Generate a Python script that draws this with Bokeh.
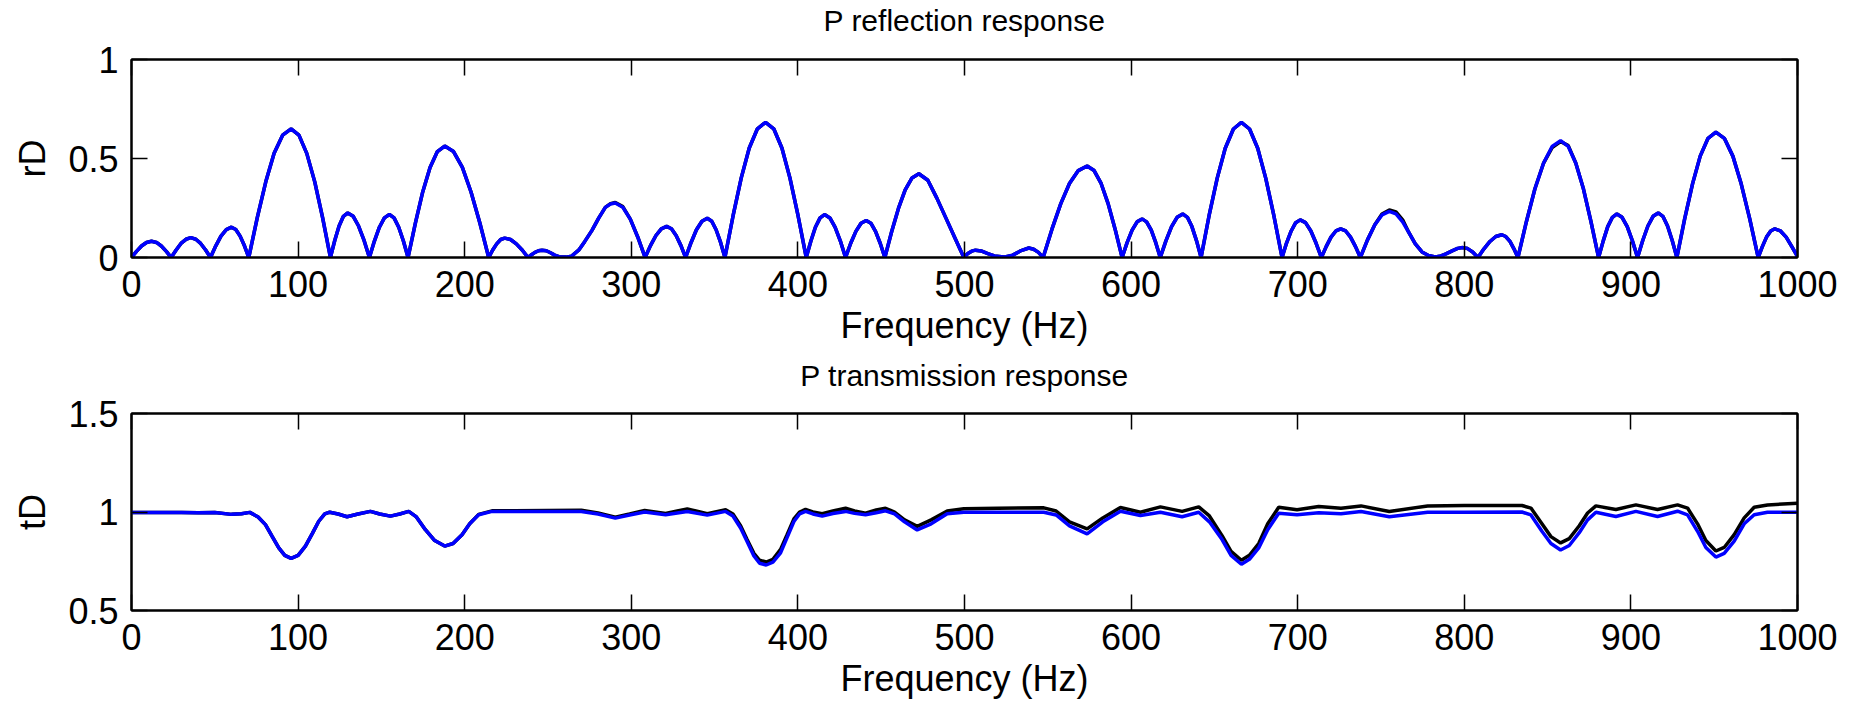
from bokeh.plotting import figure
from bokeh.models import FixedTicker, LinearAxis, Range1d, CustomJSTickFormatter
from bokeh.layouts import column
from bokeh.embed import file_html
from bokeh.resources import INLINE

FONT = "Liberation Sans"

# ---------------- data: P reflection response (rD) ----------------
f_r = [0, 3, 6, 9, 12, 15, 17.9, 20.9, 23.8,
       26.8, 29.7, 32.7, 35.6, 38.6, 41.5, 44.5, 47.4,
       50.6, 53.7, 56.9, 60, 62.6, 65.2, 67.8, 70.4,
       75.5, 80.6, 85.6, 90.7, 95.8, 100.5, 105.2, 110, 114.7, 119.4,
       122, 124.6, 127.2, 129.8, 133.1, 136.3, 139.6, 142.8,
       145.8, 148.8, 151.8, 154.8, 157.6, 160.4, 163.2, 166,
       170.4, 174.8, 179.2, 183.6, 188, 193.3, 198.6, 203.8, 209.1, 214.4,
       216.8, 219.2, 221.6, 224, 227.5, 231, 234.5, 238,
       240.1, 242.2, 244.3, 246.4, 249, 251.5, 254, 257, 261, 264,
       268.4, 272, 276.4, 280.5, 284.4, 287.5, 290.4, 294.9, 299.4, 303.8, 308.3,
       311.5, 314.8, 318, 321.2, 324.1, 326.9, 329.8, 332.6,
       335.9, 339.1, 342.4, 345.6, 348.3, 350.9, 353.6, 356.2,
       361.1, 366, 370.8, 375.7, 380.6, 385.5, 390.4, 395.2, 400.1, 405,
       407.8, 410.5, 413.3, 416, 419.2, 422.3, 425.5, 428.6,
       431.7, 434.8, 437.9, 441, 443.8, 446.6, 449.4, 452.2,
       456.3, 460.4, 464.4, 468.5, 472.6, 478, 483.4, 488.8, 494.2, 499.6,
       502, 504.3, 506.6, 510, 514, 518, 523.6, 529, 534, 538.6, 541.5, 544.4, 547.2,
       552.5, 557.8, 563, 568.3, 573.6, 577.8, 582, 586.2, 590.4, 594.6,
       597.6, 600.6, 603.6, 606.6, 609.3, 612.1, 614.8, 617.5,
       620.9, 624.3, 627.6, 631, 633.8, 636.5, 639.3, 642,
       646.8, 651.7, 656.5, 661.4, 666.2, 671.1, 676, 680.8, 685.7, 690.6,
       693.3, 696.1, 698.8, 701.5, 704.7, 707.9, 711, 714.2,
       717.1, 720, 722.9, 725.8, 728.8, 731.7, 734.7, 737.6,
       741.9, 746.3, 750.6, 755, 759, 763, 766.6, 770.5, 774.6, 778.5, 782.6,
       786, 789, 793, 796, 799, 802, 805, 808.2,
       811.8, 815.4, 818.9, 822.5, 824.9, 827.4, 829.8, 832.2,
       837.3, 842.4, 847.6, 852.7, 857.8, 862.4, 866.9, 871.5, 876, 880.6,
       883.4, 886.1, 888.9, 891.6, 894.7, 897.8, 900.9, 904,
       907.1, 910.2, 913.3, 916.4, 919.2, 922, 924.8, 927.6,
       932.3, 937, 941.6, 946.3, 951, 956.1, 961.2, 966.2, 971.3, 976.4,
       978.9, 981.4, 983.9, 986.4, 989.8, 993.2, 996.6, 1000]

rD_blue = [0, .031, .058, .076, .082, .076, .058, .031, 0,
           .038, .071, .092, .100, .092, .071, .038, 0,
           .059, .108, .141, .153, .141, .108, .059, 0,
           .201, .382, .526, .618, .650, .618, .526, .382, .201, 0,
           .086, .159, .208, .225, .208, .159, .086, 0,
           .083, .153, .200, .217, .200, .153, .083, 0,
           .174, .331, .455, .535, .563, .535, .455, .331, .174, 0,
           .038, .069, .091, .098, .091, .069, .038, 0,
           .014, .026, .034, .037, .034, .024, .012, .003, .002, .006,
           .037, .080, .137, .200, .253, .270, .275, .254, .194, .105, 0,
           .060, .111, .145, .157, .145, .111, .060, 0,
           .076, .140, .183, .198, .183, .140, .076, 0,
           .211, .402, .553, .650, .683, .650, .553, .402, .211, 0,
           .083, .153, .200, .217, .200, .153, .083, 0,
           .072, .132, .173, .187, .173, .132, .072, 0,
           .131, .249, .342, .402, .423, .390, .300, .200, .100, 0,
           .020, .032, .037, .033, .020, .008, .002, .012, .035, .048, .042, .026, 0,
           .143, .272, .374, .439, .462, .439, .374, .272, .143, 0,
           .075, .138, .180, .195, .180, .138, .075, 0,
           .084, .156, .203, .220, .203, .156, .084, 0,
           .211, .401, .552, .649, .682, .649, .552, .401, .211, 0,
           .073, .134, .176, .190, .176, .134, .073, 0,
           .055, .103, .134, .145, .134, .103, .055, 0,
           .089, .165, .215, .233, .220, .180, .128, .070, .028, .010, .003,
           .008, .018, .035, .046, .050, .045, .028, 0,
           .044, .081, .106, .115, .106, .081, .044, 0,
           .182, .347, .477, .561, .590, .561, .477, .347, .182, 0,
           .084, .156, .203, .220, .203, .156, .084, 0,
           .086, .159, .208, .225, .208, .159, .086, 0,
           .196, .372, .512, .602, .633, .602, .512, .372, .196, 0,
           .055, .103, .134, .145, .134, .103, .055, .005]

# black reflection curve: same as the blue one except where it shows
rD_black_diff = {287.5: .272, 290.4: .278, 294.9: .257,
                 750.6: .220, 755: .240, 759: .230, 763: .190,
                 852.7: .555, 857.8: .586, 862.4: .565}
rD_black = [rD_black_diff.get(f, v) for f, v in zip(f_r, rD_blue)]

# ---------------- data: P transmission response (tD) ----------------
f_t = [0, 10, 20, 30, 40, 50, 60, 66, 71, 76, 80.4, 84.5, 88.4, 92, 95.8, 100,
       104.4, 108.5, 112.4, 116, 119, 124, 129.4, 136, 143.4, 149, 155.4, 161,
       166.4, 171, 176.4, 182, 188, 193, 198.4, 203, 208.4, 216.4, 230, 250,
       270, 280, 290.4, 299, 308, 320.6, 333.6, 345.6, 356.6, 361, 365.6,
       369.5, 373.6, 377, 381, 385, 389.6, 393.5, 397.6, 401, 404.6, 409,
       414.6, 421, 428.6, 434, 440.6, 447, 452.6, 458, 464, 471.6, 480,
       489.6, 499.6, 520, 547.6, 555, 563, 573.6, 583, 593.6, 605.6, 617.6,
       630.6, 640.6, 647, 654.6, 660, 666.2, 671, 676.6, 682, 688.6, 699.6,
       712.6, 726, 738, 755, 778, 800, 834.6, 840, 846.6, 852, 857.8, 863,
       869, 874, 879, 891, 903, 916, 928, 934, 940, 945, 951, 956, 962, 968,
       974, 982, 1000]

tD_blue = [0.998, 0.997, 0.998, 0.997, 0.996, 0.998, 0.988, 0.991, 0.998, 0.975,
           0.936, 0.875, 0.818, 0.780, 0.765, 0.780, 0.827, 0.890, 0.953, 0.990,
           0.999, 0.990, 0.976, 0.990, 1.003, 0.990, 0.979, 0.990, 1.003, 0.975,
           0.910, 0.855, 0.827, 0.840, 0.885, 0.940, 0.986, 1.003, 1.002, 1.003,
           1.002, 0.990, 0.969, 0.985, 1.000, 0.986, 1.003, 0.984, 1.003, 0.980,
           0.919, 0.850, 0.777, 0.740, 0.731, 0.745, 0.793, 0.870, 0.952, 0.990,
           1.003, 0.990, 0.979, 0.992, 1.003, 0.993, 0.986, 0.996, 1.006, 0.990,
           0.950, 0.909, 0.940, 0.991, 0.999, 0.999, 0.999, 0.985, 0.930, 0.889,
           0.950, 1.004, 0.982, 0.999, 0.976, 0.999, 0.950, 0.860, 0.780, 0.735,
           0.760, 0.818, 0.910, 0.994, 0.986, 0.996, 0.991, 1.003, 0.976, 0.999,
           0.999, 1.000, 0.985, 0.902, 0.840, 0.807, 0.830, 0.895, 0.960, 0.999,
           0.977, 1.003, 0.977, 1.004, 0.985, 0.902, 0.820, 0.771, 0.790, 0.852,
           0.940, 0.986, 0.999, 0.999]

tD_black = [0.998, 0.997, 0.998, 0.997, 0.996, 0.998, 0.988, 0.991, 0.998, 0.975,
            0.936, 0.875, 0.818, 0.780, 0.765, 0.780, 0.827, 0.890, 0.953, 0.990,
            0.999, 0.990, 0.976, 0.990, 1.003, 0.990, 0.979, 0.990, 1.003, 0.975,
            0.910, 0.855, 0.827, 0.840, 0.885, 0.940, 0.988, 1.006, 1.006, 1.008,
            1.009, 0.995, 0.973, 0.990, 1.008, 0.993, 1.016, 0.991, 1.011, 0.990,
            0.930, 0.860, 0.790, 0.755, 0.746, 0.760, 0.810, 0.885, 0.965, 1.000,
            1.013, 1.000, 0.991, 1.005, 1.019, 1.005, 0.994, 1.010, 1.019, 1.000,
            0.960, 0.927, 0.960, 1.005, 1.017, 1.019, 1.021, 1.005, 0.950, 0.914,
            0.970, 1.023, 0.999, 1.026, 1.003, 1.026, 0.980, 0.880, 0.800, 0.755,
            0.780, 0.840, 0.940, 1.024, 1.011, 1.028, 1.019, 1.031, 1.003, 1.031,
            1.033, 1.033, 1.020, 0.940, 0.875, 0.843, 0.865, 0.930, 0.995, 1.031,
            1.013, 1.036, 1.013, 1.036, 1.020, 0.940, 0.855, 0.802, 0.820, 0.885,
            0.970, 1.024, 1.036, 1.045]

x_ticks = [0, 100, 200, 300, 400, 500, 600, 700, 800, 900, 1000]
r_ticks = [0, 0.5, 1]
t_ticks = [0.5, 1, 1.5]


def make_panel(title, ylabel, yrange, yticks, xs, black, blue, height, top, bottom, title_gap):
    p = figure(width=1854, height=height,
               x_range=Range1d(0, 1000), y_range=Range1d(*yrange),
               output_backend="svg", toolbar_location=None,
               min_border_left=131, min_border_right=57,
               min_border_top=top, min_border_bottom=bottom)
    p.background_fill_color = "white"
    p.border_fill_color = "white"
    p.outline_line_color = "black"
    p.outline_line_width = 2
    p.xgrid.grid_line_color = None
    p.ygrid.grid_line_color = None

    fmt = CustomJSTickFormatter(code="return tick.toString();")
    for ax, tk in ((p.xaxis[0], x_ticks), (p.yaxis[0], yticks)):
        ax.ticker = FixedTicker(ticks=tk)
        ax.formatter = fmt
        ax.major_tick_in = 16
        ax.major_tick_out = 0
        ax.minor_tick_line_color = None
        ax.axis_line_width = 2
        ax.major_tick_line_width = 1.5
        ax.major_label_text_font = FONT
        ax.major_label_text_font_size = "36px"
        ax.major_label_text_color = "black"
        ax.major_label_standoff = 13
        ax.axis_label_text_font = FONT
        ax.axis_label_text_font_size = "36px"
        ax.axis_label_text_font_style = "normal"
        ax.axis_label_text_color = "black"
    p.xaxis[0].axis_label = "Frequency (Hz)"
    p.xaxis[0].axis_label_standoff = 5
    p.yaxis[0].axis_label = ylabel
    p.yaxis[0].axis_label_standoff = 12

    # mirrored axes (ticks only) on top and right; the top one carries the title
    blank = CustomJSTickFormatter(code="return '';")
    for loc, tk in (("above", x_ticks), ("right", yticks)):
        ax = LinearAxis(ticker=FixedTicker(ticks=tk), formatter=blank,
                        major_label_text_font_size="1px",
                        major_label_standoff=0, major_tick_in=16, major_tick_out=0,
                        minor_tick_line_color=None, axis_line_width=2,
                        major_tick_line_width=1.5)
        if loc == "above":
            ax.axis_label = title
            ax.axis_label_standoff = title_gap
            ax.axis_label_text_font = FONT
            ax.axis_label_text_font_size = "30px"
            ax.axis_label_text_font_style = "normal"
            ax.axis_label_text_color = "black"
        p.add_layout(ax, loc)

    p.line(xs, black, line_color="black", line_width=3.5)
    p.line(xs, blue, line_color="blue", line_width=3.5)
    return p


p1 = make_panel("P reflection response", "rD", (0, 1), r_ticks,
                f_r, rD_black, rD_blue, 355, 58, 98, 23)
p2 = make_panel("P transmission response", "tD", (0.5, 1.5), t_ticks,
                f_t, tD_black, tD_blue, 354, 56, 99, 22)

layout = column(p1, p2, spacing=0)
open("out.html", "w").write(file_html(layout, INLINE))
